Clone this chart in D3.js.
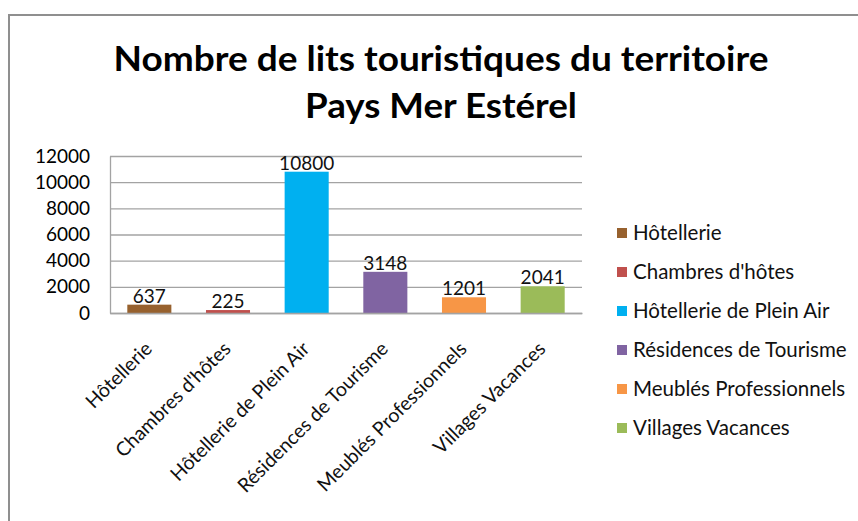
<!DOCTYPE html>
<html>
<head>
<meta charset="utf-8">
<script src="https://cdn.jsdelivr.net/npm/d3@7"></script>
<style>
  body { margin: 0; background: #fff; }
  svg { display: block; font-family: Lato, "Open Sans", sans-serif; }
</style>
</head>
<body>
<div id="chart"></div>
<script>
// data
const categories = ['Hôtellerie', "Chambres d'hôtes", 'Hôtellerie de Plein Air',
    'Résidences de Tourisme', 'Meublés Professionnels', 'Villages Vacances']
const values = [637, 225, 10800, 3148, 1201, 2041]
const yTicks = [0, 2000, 4000, 6000, 8000, 10000, 12000]
const colors = ['#97612e', '#c0504d', '#00b0f0', '#8064a2', '#f79646', '#9bbb59']
const titleLines = ['Nombre de lits touristiques du territoire', 'Pays Mer Estérel']
const titleWidths = [655, 272] // measured width of each title line

const width = 858
const height = 521
const plot = {left: 110, right: 582, top: 156, bottom: 313}

const svg = d3.select('#chart')
  .append('svg')
    .attr('width', width)
    .attr('height', height)

// outer frame (only top and left edges are visible in the picture)
svg.append('path')
  .attr('d', `M9,${height} L9,15 L${width},15`)
  .attr('fill', 'none')
  .attr('stroke', '#8f8f8f')
  .attr('stroke-width', 2)

// title
svg.append('g')
  .selectAll('text')
  .data(titleLines)
  .join('text')
    .attr('x', 441)
    .attr('y', (d, i) => 71 + i * 47)
    .attr('text-anchor', 'middle')
    .attr('textLength', (d, i) => titleWidths[i])
    .attr('lengthAdjust', 'spacingAndGlyphs')
    .style('font-size', '34px')
    .style('font-weight', 'bold')
    .style('fill', '#000')
    .text(d => d)

const x = d3.scaleBand()
  .domain(categories)
  .range([plot.left, plot.right])
  .paddingInner(0.44)
  .paddingOuter(0.22)

const y = d3.scaleLinear()
  .domain([0, 12000])
  .range([plot.bottom, plot.top])

// gridlines
svg.append('g')
  .attr('transform', `translate(${plot.left},0)`)
  .call(d3.axisLeft(y).tickValues(yTicks).tickSize(-(plot.right - plot.left)).tickFormat(''))
  .call(g => g.select('.domain').remove())
  .call(g => g.selectAll('line').attr('stroke', '#a3a3a3').attr('stroke-width', 1.3))

// y axis labels
svg.append('g')
  .attr('transform', `translate(${plot.left},0)`)
  .call(d3.axisLeft(y).tickValues(yTicks).tickSize(0).tickPadding(20).tickFormat(d3.format('d')))
  .call(g => g.select('.domain').attr('stroke', '#a3a3a3').attr('stroke-width', 1.3))
  .call(g => g.selectAll('text')
      .style('font-size', '19px')
      .style('font-family', 'Lato, sans-serif')
      .attr('fill', '#000'))

// bars
svg.append('g')
  .selectAll('rect')
  .data(values)
  .join('rect')
    .attr('x', (d, i) => x(categories[i]))
    .attr('y', d => y(d))
    .attr('width', x.bandwidth())
    .attr('height', d => y(0) - y(d))
    .attr('fill', (d, i) => colors[i])

// value labels
svg.append('g')
  .selectAll('text')
  .data(values)
  .join('text')
    .attr('x', (d, i) => x(categories[i]) + x.bandwidth() / 2)
    .attr('y', d => y(d) - 2)
    .attr('text-anchor', 'middle')
    .style('font-size', '19px')
    .style('fill', '#111')
    .text(d => d)

// x axis line
svg.append('g')
  .attr('transform', `translate(0,${plot.bottom})`)
  .call(d3.axisBottom(x).tickSize(0).tickFormat(''))
  .call(g => g.select('.domain').attr('stroke', '#a3a3a3').attr('stroke-width', 1.3))

// rotated category labels
svg.append('g')
  .selectAll('text')
  .data(categories)
  .join('text')
    .attr('transform', d => `translate(${x(d) + x.bandwidth() / 2 + 4},350) rotate(-45)`)
    .attr('text-anchor', 'end')
    .style('font-size', '19.5px')
    .style('fill', '#111')
    .text(d => d)

// legend
const legend = svg.append('g')
  .selectAll('g')
  .data(categories)
  .join('g')
    .attr('transform', (d, i) => `translate(617,${233 + i * 39})`)

legend.append('rect')
  .attr('x', 0)
  .attr('y', -5)
  .attr('width', 10)
  .attr('height', 10)
  .attr('fill', (d, i) => colors[i])

legend.append('text')
  .attr('x', 16)
  .attr('y', 7)
  .style('font-size', '20.5px')
  .style('fill', '#111')
  .text(d => d)
</script>
</body>
</html>
